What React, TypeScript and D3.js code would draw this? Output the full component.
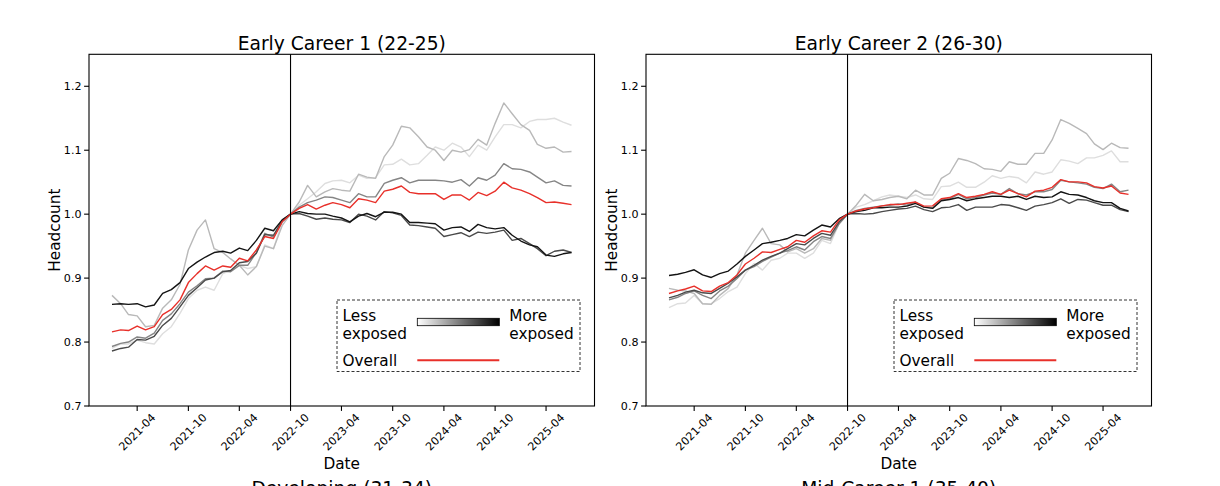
import React from 'react';
import * as d3 from 'd3';

// ---------- data ----------
const months: Date[] = d3.timeMonth.range(new Date(2021, 0, 1), new Date(2025, 7, 1)); // 2021-01 .. 2025-07
const treatmentMonth = '2022-10';
const xTickLabels = ['2021-04', '2021-10', '2022-04', '2022-10', '2023-04', '2023-10', '2024-04', '2024-10', '2025-04'];
const yTicks = [0.7, 0.8, 0.9, 1.0, 1.1, 1.2];
const panelTitles = ['Early Career 1 (22-25)', 'Early Career 2 (26-30)'];
const nextRowTitles = ['Developing (31-34)', 'Mid-Career 1 (35-40)'];
const quintileColors = ['#dedede', '#b9b9b9', '#858585', '#4a4a4a', '#141414'];

// Early Career 1 (22-25): quintiles 1 (least exposed) .. 5 (most exposed)
const ec1Q1 = [0.790, 0.797, 0.797, 0.803, 0.799, 0.797, 0.813, 0.824, 0.845, 0.868, 0.881, 0.886, 0.881, 0.907, 0.912, 0.920, 0.915, 0.918, 0.952, 0.946, 0.988, 1.0,
  1.014, 1.024, 1.035, 1.048, 1.052, 1.053, 1.049, 1.061, 1.056, 1.057, 1.077, 1.078, 1.086, 1.077, 1.079, 1.092, 1.105,
  1.100, 1.111, 1.105, 1.090, 1.108, 1.100, 1.121, 1.140, 1.140, 1.135, 1.145, 1.148, 1.148, 1.150, 1.144, 1.139];
const ec1Q2 = [0.873, 0.860, 0.843, 0.841, 0.824, 0.826, 0.853, 0.866, 0.890, 0.944, 0.975, 0.991, 0.946, 0.940, 0.930, 0.920, 0.905, 0.918, 0.950, 0.946, 0.982, 1.0,
  1.019, 1.045, 1.027, 1.035, 1.040, 1.0375, 1.036, 1.0625, 1.058, 1.056, 1.090, 1.108, 1.1375, 1.135, 1.121, 1.105, 1.100,
  1.084, 1.100, 1.097, 1.101, 1.117, 1.108, 1.142, 1.174, 1.157, 1.140, 1.131, 1.109, 1.103, 1.105, 1.097, 1.098];
const ec1Q3 = [0.793, 0.798, 0.800, 0.808, 0.806, 0.814, 0.834, 0.844, 0.860, 0.878, 0.888, 0.899, 0.900, 0.911, 0.910, 0.920, 0.920, 0.940, 0.970, 0.964, 0.988, 1.0,
  1.011, 1.018, 1.022, 1.027, 1.026, 1.022, 1.018, 1.032, 1.027, 1.027, 1.048, 1.053, 1.057, 1.049, 1.053, 1.053, 1.053,
  1.052, 1.050, 1.054, 1.044, 1.057, 1.053, 1.061, 1.079, 1.071, 1.070, 1.066, 1.058, 1.049, 1.052, 1.045, 1.044];
const ec1Q4 = [0.786, 0.790, 0.792, 0.804, 0.803, 0.809, 0.826, 0.837, 0.855, 0.873, 0.885, 0.897, 0.900, 0.910, 0.912, 0.924, 0.926, 0.939, 0.968, 0.967, 0.990, 1.0,
  1.001, 0.997, 0.992, 0.994, 0.992, 0.991, 0.987, 1.000, 0.997, 0.991, 1.004, 1.002, 0.998, 0.983, 0.982, 0.980, 0.978,
  0.965, 0.968, 0.971, 0.965, 0.972, 0.970, 0.972, 0.975, 0.959, 0.962, 0.954, 0.946, 0.935, 0.942, 0.944, 0.940];
const ec1Q5 = [0.859, 0.860, 0.859, 0.860, 0.855, 0.858, 0.876, 0.882, 0.893, 0.915, 0.925, 0.933, 0.940, 0.942, 0.939, 0.947, 0.943, 0.959, 0.978, 0.974, 0.991, 1.0,
  1.004, 1.001, 1.000, 1.000, 0.997, 0.994, 0.988, 0.997, 1.001, 0.996, 1.003, 1.003, 1.000, 0.987, 0.987, 0.986, 0.985,
  0.975, 0.979, 0.980, 0.973, 0.984, 0.979, 0.977, 0.979, 0.967, 0.958, 0.952, 0.949, 0.936, 0.934, 0.938, 0.940];
const ec1Overall = [0.816, 0.819, 0.818, 0.825, 0.819, 0.824, 0.843, 0.851, 0.866, 0.893, 0.907, 0.919, 0.9125, 0.919, 0.917, 0.931, 0.927, 0.944, 0.965, 0.962, 0.988, 1.0,
  1.009, 1.015, 1.008, 1.014, 1.018, 1.015, 1.010, 1.024, 1.022, 1.018, 1.036, 1.039, 1.044, 1.034, 1.032, 1.032, 1.032,
  1.023, 1.030, 1.030, 1.022, 1.034, 1.029, 1.036, 1.050, 1.041, 1.0375, 1.032, 1.026, 1.018, 1.019, 1.017, 1.015];

// Early Career 2 (26-30)
const ec2Q1 = [0.854, 0.860, 0.861, 0.873, 0.860, 0.860, 0.868, 0.879, 0.886, 0.907, 0.923, 0.9125, 0.928, 0.931, 0.939, 0.939, 0.931, 0.939, 0.959, 0.954, 0.985, 1.0,
  1.011, 1.015, 1.021, 1.027, 1.030, 1.028, 1.026, 1.030, 1.024, 1.023, 1.043, 1.044, 1.050, 1.042, 1.042, 1.050, 1.060,
  1.056, 1.059, 1.057, 1.049, 1.066, 1.0625, 1.066, 1.085, 1.083, 1.079, 1.088, 1.088, 1.092, 1.099, 1.082, 1.082];
const ec2Q2 = [0.884, 0.881, 0.880, 0.876, 0.860, 0.859, 0.873, 0.884, 0.905, 0.939, 0.959, 0.978, 0.954, 0.952, 0.941, 0.946, 0.939, 0.946, 0.962, 0.959, 0.986, 1.0,
  1.014, 1.031, 1.021, 1.023, 1.026, 1.028, 1.024, 1.0375, 1.030, 1.030, 1.056, 1.064, 1.087, 1.084, 1.079, 1.071, 1.070,
  1.067, 1.082, 1.078, 1.078, 1.095, 1.095, 1.116, 1.148, 1.142, 1.134, 1.126, 1.110, 1.101, 1.111, 1.104, 1.103];
const ec2Q3 = [0.866, 0.870, 0.876, 0.880, 0.873, 0.868, 0.880, 0.8875, 0.8995, 0.9125, 0.918, 0.926, 0.933, 0.939, 0.943, 0.949, 0.944, 0.957, 0.965, 0.962, 0.985, 1.0,
  1.006, 1.009, 1.011, 1.013, 1.014, 1.016, 1.014, 1.019, 1.011, 1.010, 1.023, 1.024, 1.031, 1.024, 1.026, 1.030, 1.033,
  1.031, 1.040, 1.032, 1.030, 1.035, 1.035, 1.0385, 1.053, 1.0505, 1.049, 1.047, 1.042, 1.040, 1.047, 1.035, 1.0375];
const ec2Q4 = [0.869, 0.873, 0.878, 0.881, 0.877, 0.876, 0.884, 0.892, 0.902, 0.9125, 0.920, 0.928, 0.934, 0.939, 0.946, 0.954, 0.952, 0.962, 0.970, 0.967, 0.988, 1.0,
  1.001, 1.000, 1.001, 1.004, 1.006, 1.008, 1.009, 1.0125, 1.007, 1.004, 1.010, 1.011, 1.015, 1.006, 1.011, 1.011, 1.011,
  1.015, 1.014, 1.010, 1.006, 1.0125, 1.015, 1.018, 1.024, 1.017, 1.023, 1.022, 1.018, 1.014, 1.014, 1.007, 1.004];
const ec2Q5 = [0.904, 0.906, 0.909, 0.913, 0.905, 0.901, 0.907, 0.911, 0.922, 0.934, 0.944, 0.954, 0.956, 0.959, 0.962, 0.968, 0.966, 0.975, 0.983, 0.980, 0.993, 1.0,
  1.004, 1.006, 1.010, 1.010, 1.011, 1.011, 1.0125, 1.017, 1.011, 1.009, 1.021, 1.023, 1.026, 1.021, 1.024, 1.026, 1.028,
  1.028, 1.026, 1.028, 1.023, 1.028, 1.026, 1.027, 1.035, 1.031, 1.030, 1.026, 1.021, 1.018, 1.018, 1.009, 1.005];
const ec2Overall = [0.876, 0.880, 0.883, 0.8875, 0.880, 0.879, 0.8875, 0.893, 0.905, 0.922, 0.931, 0.941, 0.940, 0.945, 0.949, 0.959, 0.956, 0.966, 0.974, 0.972, 0.991, 1.0,
  1.005, 1.008, 1.010, 1.013, 1.015, 1.015, 1.017, 1.019, 1.0125, 1.013, 1.024, 1.026, 1.032, 1.026, 1.028, 1.031, 1.035,
  1.031, 1.0375, 1.032, 1.027, 1.036, 1.0375, 1.042, 1.054, 1.0505, 1.0505, 1.049, 1.043, 1.041, 1.044, 1.033, 1.031];

const panels = [
  { title: panelTitles[0], quintiles: [ec1Q1, ec1Q2, ec1Q3, ec1Q4, ec1Q5], overall: ec1Overall, bottomTitle: nextRowTitles[0] },
  { title: panelTitles[1], quintiles: [ec2Q1, ec2Q2, ec2Q3, ec2Q4, ec2Q5], overall: ec2Overall, bottomTitle: nextRowTitles[1] },
];

// ---------- layout ----------
const W = 1220;
const H = 486;
const PANEL_LEFTS = [89, 646];
const PANEL_W = 505.5;
const TOP = 54.3;
const BOTTOM = 406;
const FONT = '"DejaVu Sans", sans-serif';
const parseMonth = d3.timeParse('%Y-%m');

function Panel({ idx }: { idx: number }) {
  const p = panels[idx];
  const left = PANEL_LEFTS[idx];
  const right = left + PANEL_W;
  const t0 = months[0].getTime();
  const t1 = months[months.length - 1].getTime();
  const pad = (t1 - t0) * 0.05;
  const x = d3.scaleTime().domain([new Date(t0 - pad), new Date(t1 + pad)]).range([left, right]);
  const y = d3.scaleLinear().domain([0.7, 1.25]).range([BOTTOM, TOP]);
  const line = d3.line<number>().x((_, i) => x(months[i])).y((d) => y(d));
  const cx = (left + right) / 2;
  const vx = x(parseMonth(treatmentMonth)!);
  const gradId = `grad${idx}`;
  const lg = { x0: left + 248, y0: 300, w: 243, h: 71.5 };
  const barX0 = left + 328.3;
  const barX1 = left + 410.3;
  return (
    <g>
      <defs>
        <linearGradient id={gradId} x1="0" x2="1" y1="0" y2="0">
          <stop offset="0" stopColor="#ffffff" />
          <stop offset="1" stopColor="#000000" />
        </linearGradient>
        <clipPath id={`clip${idx}`}>
          <rect x={left} y={TOP} width={PANEL_W} height={BOTTOM - TOP} />
        </clipPath>
      </defs>
      <text x={cx} y={50} textAnchor="middle" fontSize={18.7} fontFamily={FONT}>{p.title}</text>
      <g clipPath={`url(#clip${idx})`}>
        {p.quintiles.map((s, qi) => (
          <path key={qi} d={line(s) || ''} fill="none" stroke={quintileColors[qi]} strokeWidth={1.4} strokeLinejoin="round" />
        ))}
        <path d={line(p.overall) || ''} fill="none" stroke="#e8302a" strokeWidth={1.4} strokeLinejoin="round" />
      </g>
      <line x1={vx} x2={vx} y1={TOP} y2={BOTTOM} stroke="#000" strokeWidth={1.1} />
      {/* legend */}
      <rect x={lg.x0} y={lg.y0} width={lg.w} height={lg.h} fill="#fff" fillOpacity={0.85} stroke="#333" strokeWidth={1} strokeDasharray="3,2" />
      <text x={left + 253.5} y={321} fontSize={15.3} fontFamily={FONT}>Less</text>
      <text x={left + 253.5} y={339.3} fontSize={15.3} fontFamily={FONT}>exposed</text>
      <text x={left + 420.3} y={321} fontSize={15.3} fontFamily={FONT}>More</text>
      <text x={left + 420.3} y={339.3} fontSize={15.3} fontFamily={FONT}>exposed</text>
      <rect x={barX0} y={318.3} width={barX1 - barX0} height={7.4} fill={`url(#${gradId})`} stroke="#000" strokeWidth={0.8} />
      <text x={left + 253.5} y={365.5} fontSize={15.3} fontFamily={FONT}>Overall</text>
      <line x1={barX0} x2={barX1} y1={360.2} y2={360.2} stroke="#e8302a" strokeWidth={2} />
      {/* frame */}
      <rect x={left} y={TOP} width={PANEL_W} height={BOTTOM - TOP} fill="none" stroke="#000" strokeWidth={1.1} />
      {/* y axis */}
      {yTicks.map((t) => (
        <g key={t}>
          <line x1={left - 4.9} x2={left} y1={y(t)} y2={y(t)} stroke="#000" strokeWidth={1.1} />
          <text x={left - 7.5} y={y(t)} dy="0.35em" textAnchor="end" fontSize={11.1} fontFamily={FONT}>{t.toFixed(1)}</text>
        </g>
      ))}
      <text transform={`translate(${left - 29.5},${(TOP + BOTTOM) / 2}) rotate(-90)`} textAnchor="middle" fontSize={15.3} fontFamily={FONT}>Headcount</text>
      {/* x axis */}
      {xTickLabels.map((lbl) => {
        const tx = x(parseMonth(lbl)!);
        return (
          <g key={lbl}>
            <line x1={tx} x2={tx} y1={BOTTOM} y2={BOTTOM + 4.9} stroke="#000" strokeWidth={1.1} />
            <text transform={`translate(${tx},${432}) rotate(-45)`} textAnchor="middle" dy="0.35em" fontSize={11.1} fontFamily={FONT}>{lbl}</text>
          </g>
        );
      })}
      <text x={cx} y={468.5} textAnchor="middle" fontSize={15.3} fontFamily={FONT}>Date</text>
      <text x={cx} y={495} textAnchor="middle" fontSize={18.7} fontFamily={FONT}>{p.bottomTitle}</text>
    </g>
  );
}

export default function App() {
  return (
    <div style={{ position: 'absolute', left: 0, top: 0, width: W, height: H, background: '#fff' }}>
      <svg width={W} height={H} viewBox={`0 0 ${W} ${H}`} style={{ display: 'block', overflow: 'hidden' }}>
        <rect x={0} y={0} width={W} height={H} fill="#fff" />
        <Panel idx={0} />
        <Panel idx={1} />
      </svg>
    </div>
  );
}
